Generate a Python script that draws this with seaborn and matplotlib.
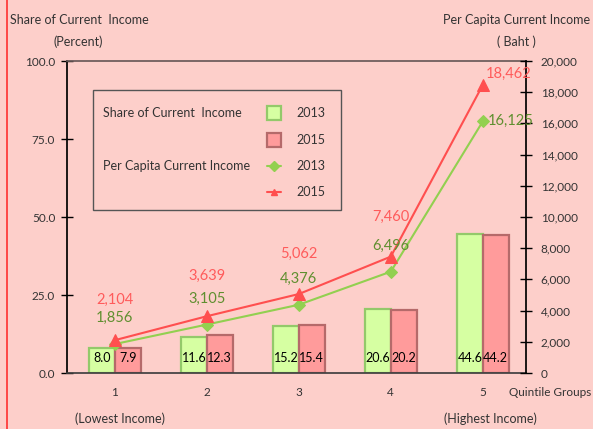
"""Share of current income and per capita income by quintile group."""
import numpy as np
import pandas as pd
import matplotlib
matplotlib.use("Agg")
import matplotlib.pyplot as plt
from matplotlib.lines import Line2D
from matplotlib.patches import Rectangle
from matplotlib.ticker import FuncFormatter, MultipleLocator
import seaborn as sns

# data
groups = ["1", "2", "3", "4", "5"]
years = ["2013", "2015"]
share_2013 = [8.0, 11.6, 15.2, 20.6, 44.6]
share_2015 = [7.9, 12.3, 15.4, 20.2, 44.2]
income_2013 = [1856, 3105, 4376, 6496, 16125]
income_2015 = [2104, 3639, 5062, 7460, 18462]

BG = "#fdcfca"
BAR_FACE = {"2013": "#d6ffa2", "2015": "#ff9b9b"}
BAR_EDGE = {"2013": "#93c96a", "2015": "#b56a6a"}
LINE_COL = {"2013": "#92d050", "2015": "#ff4f4f"}
LABEL_COL = {"2013": "#5f8f2f", "2015": "#ff5b5b"}
MARK = {"2013": "D", "2015": "^"}

sns.set_theme(style="white")
plt.rcParams["font.family"] = ["Lato", "DejaVu Sans"]

df = pd.DataFrame({
    "group": groups * 2,
    "year": [years[0]] * 5 + [years[1]] * 5,
    "share": share_2013 + share_2015,
})

fig = plt.figure(figsize=(5.93, 4.29), dpi=100, facecolor=BG)
ax = fig.add_axes([67 / 593, 56 / 429, 459 / 593, 312 / 429])
ax.set_facecolor(BG)

sns.barplot(data=df, x="group", y="share", hue="year", hue_order=years,
            palette=BAR_FACE, width=0.56, ax=ax, legend=False, saturation=1)

for cont, yr in zip(ax.containers, years):
    for bar, val in zip(cont, df.loc[df.year == yr, "share"]):
        bar.set_edgecolor(BAR_EDGE[yr])
        bar.set_linewidth(1.6)
        ax.text(bar.get_x() + bar.get_width() / 2, 4.8, f"{val:.1f}",
                ha="center", va="center", fontsize=9, color="black")

ax.set_ylim(0, 100)
ax.set_xlim(-0.52, 4.47)
ax.yaxis.set_major_locator(MultipleLocator(25))
ax.yaxis.set_major_formatter(FuncFormatter(lambda v, p: f"{v:.1f}"))
ax.set_xlabel("")
ax.set_ylabel("")
ax.tick_params(axis="y", direction="inout", length=9, width=1, color="black",
               labelsize=8.5, labelcolor="#333333", pad=4)
ax.tick_params(axis="x", length=0, labelsize=8.5, labelcolor="#333333", pad=10)
ax.spines["left"].set_color("black")
ax.spines["bottom"].set_color("#404040")
ax.spines["top"].set_color("#6a5a5a")
ax.spines["right"].set_visible(False)

# per capita income lines on the right axis
ax2 = ax.twinx()
x_pos = np.arange(len(groups))
sns.lineplot(x=x_pos, y=income_2013, ax=ax2, color=LINE_COL["2013"],
             marker="D", markersize=6, markeredgecolor=LINE_COL["2013"], lw=1.5)
sns.lineplot(x=x_pos, y=income_2015, ax=ax2, color=LINE_COL["2015"],
             marker="^", markersize=8, markeredgecolor=LINE_COL["2015"], lw=1.5)
ax2.set_ylim(0, 20000)
ax2.yaxis.set_major_locator(MultipleLocator(2000))
ax2.yaxis.set_major_formatter(FuncFormatter(lambda v, p: f"{v:,.0f}"))
ax2.tick_params(axis="y", direction="inout", length=9, width=1, color="black",
                labelsize=8.5, labelcolor="#333333", pad=6)
for s in ["left", "top", "bottom"]:
    ax2.spines[s].set_visible(False)
ax2.spines["right"].set_color("black")

for i, (a, b) in enumerate(zip(income_2013, income_2015)):
    if i < len(groups) - 1:
        off_a, off_b, ha = (0, 26), (0, 40), "center"
    else:
        off_a, off_b, ha = (5, 1), (3, 11), "left"
    ax2.annotate(f"{a:,}", (x_pos[i], a), xytext=off_a, textcoords="offset pixels",
                 ha=ha, va="center", fontsize=10.5, color=LABEL_COL["2013"])
    ax2.annotate(f"{b:,}", (x_pos[i], b), xytext=off_b, textcoords="offset pixels",
                 ha=ha, va="center", fontsize=10.5, color=LABEL_COL["2015"])

# legend box
ax.add_patch(Rectangle((0.057, 0.522), 0.54, 0.385, transform=ax.transAxes,
                       fill=False, edgecolor="#555555", lw=1, zorder=5))
ax.text(0.078, 0.833, "Share of Current  Income", transform=ax.transAxes,
        fontsize=9, va="center", color="#333333")
ax.text(0.078, 0.663, "Per Capita Current Income", transform=ax.transAxes,
        fontsize=9, va="center", color="#333333")
rows = [0.833, 0.747, 0.663, 0.580]
for k, yr in enumerate(years):
    ax.add_patch(Rectangle((0.436, rows[k] - 0.022), 0.03, 0.044,
                           transform=ax.transAxes, facecolor=BAR_FACE[yr],
                           edgecolor=BAR_EDGE[yr], lw=1.6, zorder=5))
    ax.plot([0.436, 0.466], [rows[k + 2]] * 2, transform=ax.transAxes,
            color=LINE_COL[yr], lw=1.5, zorder=5)
    ax.plot([0.451], [rows[k + 2]], transform=ax.transAxes, color=LINE_COL[yr],
            marker=MARK[yr], markersize=5, zorder=6)
    ax.text(0.499, rows[k], yr, transform=ax.transAxes, fontsize=9,
            va="center", color="#333333")
    ax.text(0.499, rows[k + 2], yr, transform=ax.transAxes, fontsize=9,
            va="center", color="#333333")

# axis titles and notes
fig.text(10 / 593, 1 - 20 / 429, "Share of Current  Income", fontsize=9,
         va="center", color="#333333")
fig.text(78 / 593, 1 - 42 / 429, "(Percent)", fontsize=9, ha="center",
         va="center", color="#333333")
fig.text(590 / 593, 1 - 20 / 429, "Per Capita Current Income", fontsize=9,
         ha="right", va="center", color="#333333")
fig.text(516 / 593, 1 - 42 / 429, "( Baht )", fontsize=9, ha="center",
         va="center", color="#333333")
fig.text(591 / 593, 1 - 393 / 429, "Quintile Groups", fontsize=8.5,
         ha="right", va="center", color="#333333")
fig.text(120 / 593, 1 - 419 / 429, "(Lowest Income)", fontsize=9, ha="center",
         va="center", color="#333333")
fig.text(490 / 593, 1 - 419 / 429, "(Highest Income)", fontsize=9, ha="center",
         va="center", color="#333333")
fig.add_artist(Line2D([7 / 593, 7 / 593], [0, 1], color="#ff3030", lw=1.2))

fig.savefig("out.png", dpi=100, facecolor=BG)
